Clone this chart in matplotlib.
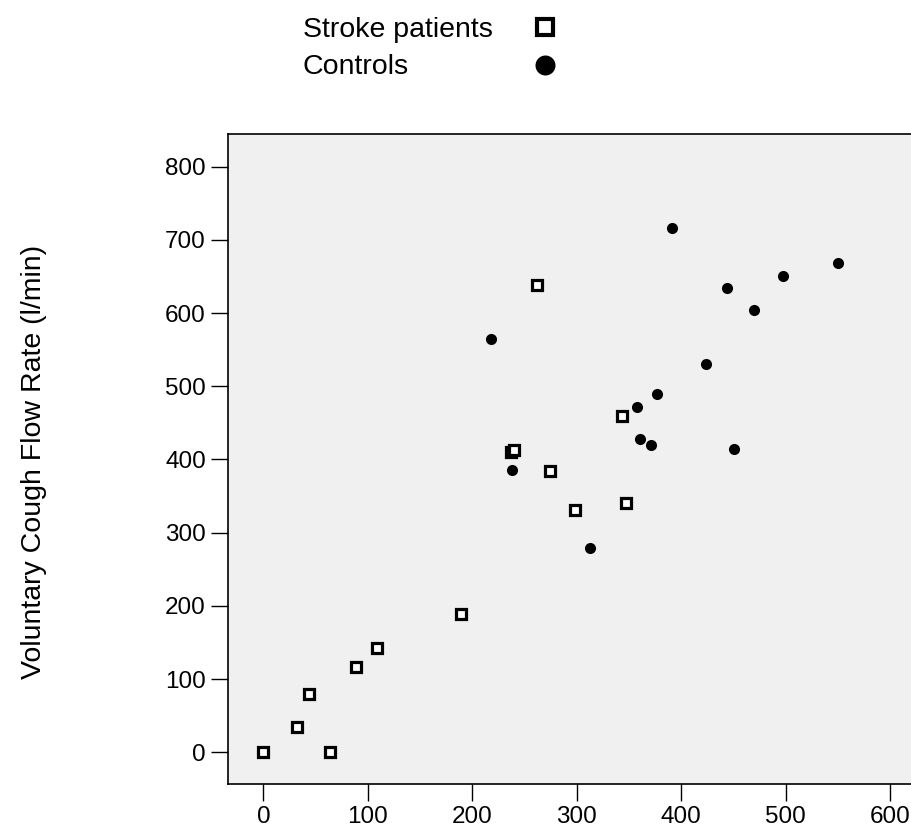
import matplotlib
matplotlib.use("Agg")
import matplotlib.pyplot as plt
from matplotlib.lines import Line2D

plt.rcParams['font.family'] = ['Liberation Sans', 'DejaVu Sans']

# stroke patients (x, voluntary cough flow rate)
stroke_x = [0, 32, 43.5, 64, 89, 109, 189, 237, 240, 274, 298, 262, 343, 347]
stroke_y = [0, 34, 79, 0, 116.5, 143, 189, 410, 413, 384, 331, 639, 460, 341]

# controls
ctrl_x = [218, 238, 313, 358, 361, 371.5, 377, 391.5, 444, 497.5, 550, 470, 424, 450.5]
ctrl_y = [565, 386, 279, 472, 428, 420, 490, 716, 634, 651, 668, 604, 530, 414]

xticks = [0, 100, 200, 300, 400, 500, 600]
yticks = [0, 100, 200, 300, 400, 500, 600, 700, 800]

W, H = 911, 832
fig = plt.figure(figsize=(W / 100, H / 100), dpi=100)
ax = fig.add_axes([228 / W, 48 / H, 704 / W, 650 / H])
ax.set_facecolor('#f0f0f0')

ax.plot(ctrl_x, ctrl_y, linestyle='none', marker='o', markersize=8,
        markerfacecolor='black', markeredgecolor='black', markeredgewidth=0)
ax.plot(stroke_x, stroke_y, linestyle='none', marker='s', markersize=7.5,
        markerfacecolor='white', markeredgecolor='black', markeredgewidth=2.3)

ax.set_xlim(-33.8, 640)
ax.set_ylim(-43.3, 844.6)
ax.set_xticks(xticks)
ax.set_yticks(yticks)
ax.tick_params(direction='out', length=12, width=1, pad=4, labelsize=17.5, colors='black')
for side in ['left', 'bottom', 'top']:
    ax.spines[side].set_linewidth(1.2)
    ax.spines[side].set_color('black')
ax.spines['right'].set_visible(False)

fig.text(34 / W, 1 - 462 / H, 'Voluntary Cough Flow Rate (l/min)', rotation=90,
         ha='center', va='center', fontsize=20.5)

# legend block at top
fig.text(303 / W, 1 - 37 / H, 'Stroke patients', ha='left', va='baseline', fontsize=20.5)
fig.text(303 / W, 1 - 74 / H, 'Controls', ha='left', va='baseline', fontsize=20.5)
fig.add_artist(Line2D([544.5 / W], [1 - 27 / H], transform=fig.transFigure,
                      marker='s', markersize=12, markerfacecolor='white',
                      markeredgecolor='black', markeredgewidth=3, linestyle='none'))
fig.add_artist(Line2D([545 / W], [1 - 65 / H], transform=fig.transFigure,
                      marker='o', markersize=14.4, markerfacecolor='black',
                      markeredgewidth=0, linestyle='none'))

fig.savefig('out.png', dpi=100)
